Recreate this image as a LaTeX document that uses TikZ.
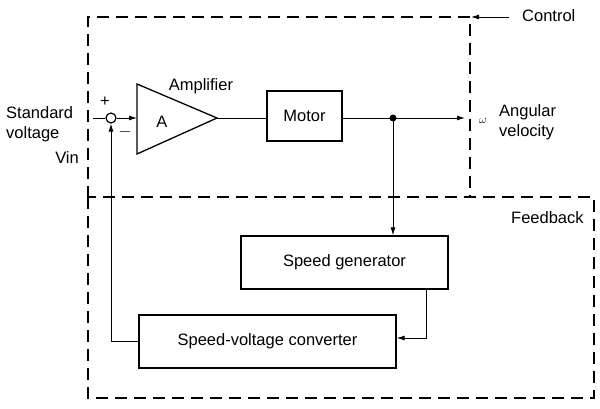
\documentclass[tikz,border=0pt]{standalone}
\usepackage{fontspec}
\setmainfont{Liberation Sans}
\usetikzlibrary{arrows.meta}
\begin{document}
\begin{tikzpicture}[x=1pt,y=-1pt,
  txt/.style={font=\fontsize{16.5}{20}\selectfont, inner sep=0pt},
  blk/.style={draw, line width=1.3pt, font=\fontsize{16.5}{20}\selectfont, inner sep=0pt},
  dsh/.style={line width=1.8pt, dash pattern=on 12pt off 7pt},
  wire/.style={line width=0.9pt},
  arr/.style={wire, -{Latex[length=8pt,width=5pt]}}]
\useasboundingbox (0,0) rectangle (600,409);
% dashed regions
\draw[dsh] (88,198) -- (88,17) -- (470,17) -- (470,197);
\draw[dsh] (88,197) rectangle (594,398);
% nodes
\node[circle, draw, line width=1.2pt, minimum size=10pt, inner sep=0pt] (sum) at (111,118) {};
\coordinate (inp) at (93,118);
\coordinate (ampin) at (137,118);
\coordinate (ampout) at (217,118);
\draw[line width=1.3pt] (137,84) -- (ampout) -- (137,154) -- cycle;
\node[txt] (A) at (162,122) {A};
\node[txt] (amplab) at (201,86) {Amplifier};
\node[blk, minimum width=75pt, minimum height=50pt] (motor) at (304.5,116) {Motor};
\coordinate (dot) at (393,118);
\coordinate (wend) at (465,118);
\node[blk, minimum width=207pt, minimum height=53pt] (gen) at (344.5,262.5) {Speed generator};
\node[blk, minimum width=257pt, minimum height=53pt] (conv) at (267.5,341.5) {Speed-voltage converter};
% connectors
\draw[wire] (inp) -- (sum.west);
\draw[arr] (sum.east) -- (ampin);
\draw[wire] (ampout) -- (motor.west |- ampout);
\draw[wire] (motor.east |- dot) -- (dot);
\fill (dot) circle (3.5pt);
\draw[arr] (dot) -- (wend);
\draw[arr] (dot) -- (dot |- gen.north);
\coordinate (gout) at (426,289);
\draw[arr] (gout) -- (426,338) -- (conv.east |- 0,338);
\coordinate (fb) at (111,341);
\draw[arr] (conv.west |- fb) -- (fb) -- (sum.south);
% control arrow
\coordinate (ctl) at (509,17);
\coordinate (ctlc) at (471,17);
\draw[arr] (ctl) -- (ctlc);
% labels
\node[txt, anchor=west] (ctltext) at (522,16) {Control};
\node[txt, anchor=west] (fbtext) at (511,218) {Feedback};
\node[txt, anchor=west, align=left] (std) at (6,124) {Standard\\voltage};
\node[txt, anchor=east] (vin) at (79,158) {Vin};
\node[txt] (plus) at (105,102) {+};
\node[txt] (minus) at (125,132) {$-$};
\node[txt] (omega) at (483,121) {\fontsize{12}{12}\selectfont$\omega$};
\node[txt, anchor=west, align=left] (angv) at (499,122) {Angular\\velocity};
\end{tikzpicture}
\end{document}
